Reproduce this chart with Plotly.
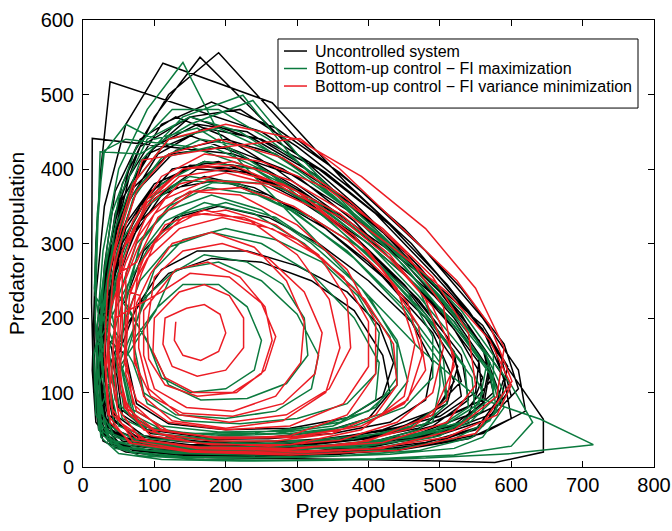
import plotly.graph_objects as go

# Trajectories (prey, predator)
black_points = [
    (25,90),(35,40),(70,22),(140,15),(240,14),(360,17),(470,27),(560,45),(620,75),(610,130),(560,200),(480,290),(390,370),(300,440),(190,556),(120,500),(70,420),(40,310),(28,200),
    (22,120),(28,55),(55,28),(110,18),(200,15),(320,16),(440,22),(540,38),(600,65),(590,120),(540,190),(470,270),(390,345),(300,420),(164,550),(100,470),(55,380),(32,270),(24,170),
    (20,100),(30,45),(60,25),(130,17),(230,15),(350,18),(460,28),(550,50),(585,95),(560,160),(500,235),(420,310),(330,390),(240,440),(150,470),(80,430),(45,340),(28,230),(20,150),
    (18,80),(28,35),(60,20),(130,13),(250,12),(380,10),(500,8),(577,6),(645,20),(645,64),(598,129),(540,210),(460,300),(370,380),(265,489),(112,542),(60,460),(30,350),(18,230),(15,140),
    (15,110),(22,50),(45,28),(100,20),(190,18),(300,20),(410,28),(500,45),(560,75),(570,130),(520,200),(450,275),(370,345),(280,400),(200,430),(120,420),(65,370),(35,280),(20,190),
    (20,80),(35,35),(75,22),(160,17),(270,16),(390,20),(490,32),(560,55),(595,100),(575,165),(510,245),(430,325),(340,395),(250,450),(38,517),(25,400),(18,300),(15,200),
    (13,130),(18,60),(40,30),(90,22),(170,20),(270,22),(380,30),(470,45),(540,70),(560,120),(520,185),(455,255),(380,330),(300,390),(210,420),(13,441),(12,330),(12,220),
    (15,100),(25,45),(55,27),(120,20),(220,19),(330,22),(430,32),(510,50),(560,85),(555,140),(500,210),(420,290),(340,350),(250,400),(170,410),(100,380),(55,320),(30,240),(20,170),
    (18,110),(25,48),(55,30),(120,23),(210,22),(310,25),(410,35),(490,55),(540,90),(530,150),(470,225),(390,300),(310,360),(230,395),(160,400),(100,360),(60,300),(35,230),(22,160),
    (20,90),(32,40),(70,25),(150,19),(260,18),(380,22),(480,33),(560,55),(600,95),(585,150),(530,220),(460,300),(380,370),(300,430),(220,480),(150,470),(90,420),(50,330),(30,230),
    (25,130),(30,60),(55,35),(110,27),(200,25),(300,28),(400,38),(480,58),(530,95),(520,155),(460,230),(380,310),(300,365),(220,400),(150,405),(95,370),(55,300),(35,220),
    (28,100),(40,45),(80,30),(160,24),(270,23),(390,28),(490,40),(570,65),(610,105),(590,165),(530,240),(450,320),(360,395),(270,455),(180,490),(110,460),(65,390),(40,290),(28,190),
    (22,140),(30,65),(60,38),(130,30),(230,29),(330,33),(420,45),(490,70),(520,115),(490,180),(420,255),(340,320),(260,365),(190,385),(130,375),(80,330),(50,260),(32,200),
    (30,120),(45,50),(90,32),(180,26),(290,26),(400,31),(500,45),(575,72),(590,120),(560,185),(490,260),(410,340),(330,400),(250,440),(170,455),(105,420),(60,350),(38,260),(28,180),
    (25,110),(35,50),(70,32),(140,25),(240,23),(350,27),(450,38),(530,60),(575,100),(560,160),(500,235),(420,315),(350,370),(270,420),(200,440),(130,425),(75,370),(42,280),(28,190),
    (32,140),(45,70),(85,42),(170,34),(270,34),(370,40),(450,55),(510,85),(525,135),(480,200),(400,275),(320,335),(240,375),(170,390),(110,365),(70,310),(45,240),
    (22,150),(28,70),(55,40),(120,30),(200,28),(300,31),(400,40),(490,60),(560,90),(570,140),(530,205),(460,280),(380,350),(300,410),(230,450),(160,460),(100,430),(55,360),(35,270),(25,190),
    (40,160),(50,80),(90,50),(170,40),(260,40),(340,48),(400,65),(430,100),(420,150),(380,210),(320,250),(250,275),(180,280),(120,260),(80,220),(55,180),
    (35,130),(45,60),(80,38),(150,30),(240,30),(330,35),(420,50),(490,75),(530,115),(510,175),(450,245),(380,310),(300,360),(230,395),(160,405),(100,380),(60,320),(40,250),(30,170),(25,110),
    (20,170),(24,80),(45,42),(100,30),(180,27),(280,29),(380,36),(470,52),(540,80),(575,120),(555,170),(510,215),(450,265),(380,320),(300,375),(220,420),(150,445),(90,420),(50,350),(30,260),
    (28,150),(36,70),(70,42),(140,34),(230,33),(330,37),(420,48),(500,68),(550,100),(555,145),(520,195),(460,250),(400,300),(330,345),(260,385),(190,410),(125,400),(80,350),(50,280),(35,210),
    (25,120),(33,55),(65,34),(130,27),(225,25),(330,28),(430,37),(520,55),(585,85),(595,135),(560,190),(500,240),(430,290),(350,345),(270,400),(195,445),(130,470),(80,440),(45,370),(30,270),(24,180),
    (60,150),(75,85),(120,58),(200,50),(290,52),(370,66),(420,95),(435,140),(415,190),(370,235),(300,270),(230,290),(160,290),(110,265),(75,215),
    (45,140),(55,70),(95,45),(170,37),(260,38),(350,45),(430,60),(480,90),(490,140),(460,195),(400,250),(330,300),(260,335),(190,350),(130,335),(85,290),(58,220),
]

green_points = [
    (20,100),(25,40),(50,18),(110,10),(220,8),(350,9),(480,12),(600,18),(715,30),(641,64),(553,93),(470,160),(400,230),(330,300),(260,370),(200,430),(140,543),(90,480),(50,400),(28,290),(20,190),
    (18,120),(22,50),(45,25),(100,15),(190,12),(310,13),(430,17),(520,25),(560,40),(590,80),(570,130),(510,200),(440,280),(360,360),(300,420),(238,492),(150,460),(80,420),(24,423),(20,300),(17,200),
    (25,90),(35,35),(70,20),(140,14),(240,13),(360,15),(470,22),(545,40),(580,75),(570,125),(520,190),(450,270),(370,345),(290,420),(224,499),(140,470),(80,410),(45,320),(28,210),
    (20,110),(26,50),(50,28),(110,20),(200,18),(310,20),(420,27),(500,42),(550,70),(545,120),(490,190),(420,265),(340,335),(260,395),(180,430),(110,415),(65,360),(38,280),(24,190),
    (30,100),(40,45),(80,30),(160,24),(270,23),(390,27),(480,40),(540,62),(560,100),(530,160),(470,230),(400,300),(320,360),(240,400),(170,410),(110,380),(70,320),(45,250),(32,170),
    (22,140),(25,65),(45,35),(100,25),(190,22),(300,24),(400,32),(470,50),(510,85),(500,140),(450,210),(380,280),(300,340),(220,380),(150,390),(90,360),(52,300),(33,230),
    (15,150),(18,70),(40,35),(95,22),(180,20),(290,22),(400,30),(490,48),(540,80),(535,135),(480,205),(400,285),(320,350),(240,400),(150,430),(60,440),(30,425),(20,340),(16,240),
    (35,120),(50,55),(95,38),(180,32),(280,32),(380,38),(460,55),(510,90),(505,145),(450,215),(370,290),(290,345),(210,380),(140,385),(90,350),(55,290),(40,210),
    (50,150),(65,80),(110,55),(190,47),(280,48),(360,60),(410,90),(415,140),(380,200),(320,260),(250,300),(180,315),(120,295),(80,250),(60,200),
    (40,130),(55,65),(100,45),(180,38),(270,40),(350,50),(420,72),(455,115),(440,170),(390,240),(320,300),(250,345),(180,365),(120,345),(75,300),(50,230),
    (90,170),(110,120),(150,100),(200,105),(240,130),(250,170),(230,215),(190,245),(140,245),(105,215),
    (70,170),(85,100),(130,70),(200,65),(270,75),(320,105),(330,150),(300,205),(250,250),(190,275),(130,265),(90,230),
    (25,80),(40,30),(80,15),(170,10),(290,9),(410,11),(520,16),(600,28),(630,60),(600,110),(540,185),(460,270),(380,340),(300,400),(220,450),(150,470),(90,440),(50,360),(30,260),(22,170),
    (28,120),(38,55),(75,35),(150,28),(250,27),(360,30),(460,40),(540,58),(580,95),(565,150),(505,220),(430,295),(350,365),(270,420),(190,455),(120,440),(70,380),(42,290),(30,200),
    (60,120),(75,60),(120,40),(210,34),(320,36),(420,45),(490,60),(500,110),(500,175),(470,240),(410,300),(340,350),(260,380),(190,385),(130,360),(85,310),(62,240),(55,170),
    (45,150),(58,75),(100,50),(180,43),(270,45),(350,55),(410,80),(440,120),(430,175),(380,240),(310,300),(240,340),(170,355),(115,330),(75,280),(52,210),
    (20,100),(28,42),(60,25),(130,18),(230,16),(340,18),(440,24),(520,38),(570,62),(590,100),(560,160),(500,230),(420,310),(340,380),(260,440),(190,480),(125,480),(75,430),(40,340),(24,220),
    (35,170),(45,90),(80,55),(150,45),(240,46),(330,55),(400,75),(440,110),(440,165),(400,230),(340,290),(270,335),(200,355),(140,340),(95,300),(60,240),
    (18,160),(22,80),(45,40),(100,26),(190,23),(300,25),(410,33),(500,52),(555,85),(565,135),(520,195),(455,255),(380,315),(300,370),(220,420),(160,455),(100,440),(60,460),(28,420),(20,320),(17,230),
    (70,140),(90,85),(140,62),(220,58),(300,65),(370,85),(410,125),(415,180),(385,230),(335,275),(270,305),(200,320),(140,305),(100,265),(78,205),
    (55,130),(70,70),(115,48),(200,42),(290,45),(380,55),(450,80),(490,120),(490,175),(455,235),(395,290),(320,335),(245,365),(175,375),(120,350),(80,300),(60,220),
    (100,150),(120,110),(165,90),(230,92),(285,112),(315,150),(310,200),(280,245),(230,275),(170,285),(125,260),(102,210),
    (35,110),(45,50),(85,32),(160,26),(250,26),(350,30),(450,40),(530,60),(575,95),(575,150),(530,210),(460,275),(380,340),(300,395),(230,430),(165,440),(110,415),(70,360),(45,280),(35,190),
]

red_points = [
    (130,195),(128,170),(140,150),(165,143),(190,155),(200,180),(192,205),(170,218),(145,213),
    (115,200),(112,165),(125,135),(160,122),(200,130),(225,160),(225,200),(205,230),(170,245),(135,235),
    (100,200),(98,155),(115,120),(155,100),(210,100),(250,125),(265,170),(255,215),(220,255),(175,275),(130,265),(105,235),
    (85,210),(85,150),(100,105),(145,80),(210,75),(270,95),(305,140),(310,195),(285,250),(240,295),(180,315),(125,300),(95,260),
    (75,220),(72,150),(85,95),(125,62),(200,52),(280,62),(340,100),(360,160),(345,225),(300,285),(235,330),(170,345),(115,325),(85,280),
    (65,230),(60,150),(70,85),(110,50),(190,38),(290,42),(370,70),(410,125),(410,195),(370,265),(300,325),(220,365),(150,370),(100,340),(75,290),
    (55,240),(50,150),(58,80),(95,42),(180,30),(290,30),(390,50),(450,95),(465,165),(440,240),(380,310),(300,370),(210,405),(140,400),(90,360),(65,300),
    (48,250),(42,160),(48,80),(80,38),(160,25),(280,22),(400,35),(490,70),(520,135),(505,215),(450,290),(370,360),(280,415),(190,440),(120,420),(75,370),(55,310),
    (42,260),(36,160),(40,80),(70,35),(150,22),(280,18),(420,25),(520,50),(580,95),(590,160),(550,240),(480,320),(390,390),(300,440),(200,460),(120,440),(70,380),(50,320),
    (35,250),(30,150),(35,70),(65,32),(150,20),(290,16),(440,22),(550,45),(601,115),(570,190),(524,250),(470,300),(416,349),(360,400),(304,441),(200,430),(83,412),(60,340),(45,290),
    (40,230),(35,140),(42,70),(75,38),(160,27),(290,25),(420,33),(510,60),(550,110),(540,180),(490,255),(420,320),(340,375),(250,410),(170,420),(110,390),(70,330),(52,280),
    (50,220),(48,140),(60,80),(100,50),(180,40),(290,40),(390,55),(455,90),(475,150),(455,220),(400,290),(330,345),(250,380),(175,385),(115,360),(78,310),(60,260),
    (60,210),(58,140),(75,90),(120,60),(200,50),(290,55),(365,85),(400,135),(400,195),(365,255),(300,305),(225,335),(160,340),(110,315),(78,270),
    (70,200),(72,140),(95,95),(140,72),(210,68),(280,85),(325,125),(335,180),(310,235),(260,280),(195,300),(140,290),(100,255),
    (90,190),(92,145),(115,110),(160,95),(215,100),(255,130),(270,175),(250,220),(205,255),(150,260),(110,235),
    (45,200),(40,120),(52,60),(90,35),(170,26),(280,24),(380,32),(460,52),(510,90),(520,150),(490,215),(430,280),(360,335),(280,375),(200,395),(135,380),(88,335),(60,275),
    (38,210),(32,130),(38,60),(68,32),(140,22),(260,20),(400,24),(510,40),(580,70),(600,110),(570,170),(510,235),(440,290),(370,340),(290,385),(210,410),(140,400),(90,355),(55,290),
    (55,190),(52,120),(65,70),(105,45),(180,35),(270,35),(350,45),(410,70),(440,110),(435,165),(395,225),(335,280),(265,320),(195,335),(135,320),(90,280),(65,235),
    (80,230),(78,160),(92,105),(135,70),(205,60),(285,70),(345,105),(375,160),(370,225),(330,285),(270,325),(200,345),(140,335),(100,300),(82,260),
    (62,200),(60,125),(75,75),(120,48),(200,38),(300,40),(390,55),(450,85),(480,130),(470,190),(430,250),(370,305),(295,350),(220,375),(155,370),(105,335),(75,275),
    (50,260),(45,180),(52,100),(85,50),(160,32),(260,28),(360,36),(440,60),(490,100),(505,160),(480,225),(430,285),(360,340),(280,380),(200,400),(135,390),(90,350),(62,300),
]

series_names = [
    "Uncontrolled system",
    "Bottom-up control \u2212 FI maximization",
    "Bottom-up control \u2212 FI variance minimization",
]
series_colors = ["#000000", "#0b7a3e", "#ec1c24"]
series_data = [black_points, green_points, red_points]

x_ticks = [0, 100, 200, 300, 400, 500, 600, 700, 800]
y_ticks = [0, 100, 200, 300, 400, 500, 600]

fig = go.Figure()
for name, color, pts in zip(series_names, series_colors, series_data):
    fig.add_trace(go.Scatter(
        x=[p[0] for p in pts],
        y=[p[1] for p in pts],
        mode="lines",
        name=name,
        line=dict(color=color, width=1.5),
        showlegend=False,
    ))

font_family = "Liberation Sans, Arial, sans-serif"
axis_common = dict(
    showgrid=False, zeroline=False, showline=True, linecolor="black", linewidth=1,
    mirror="ticks", ticks="inside", ticklen=6, tickcolor="black", tickwidth=1,
    tickfont=dict(family=font_family, size=20, color="black"), automargin=False,
)
fig.update_xaxes(range=[0, 800], tickvals=x_ticks,
                 title=dict(text="Prey population", font=dict(family=font_family, size=21, color="black"), standoff=8),
                 **axis_common)
fig.update_yaxes(range=[0, 600], tickvals=y_ticks, ticklabelstandoff=4,
                 title=dict(text="Predator population", font=dict(family=font_family, size=21, color="black"), standoff=10),
                 **axis_common)

# Legend drawn as a boxed key in the top-right corner (paper coordinates)
leg_x0, leg_x1, leg_y0, leg_y1 = 0.3415, 0.972, 0.803, 0.9575
leg_line_x0, leg_line_x1, leg_text_x = 0.352, 0.3923, 0.4028
leg_rows = [0.9306, 0.8915, 0.8523]

shapes = [dict(type="rect", xref="paper", yref="paper", x0=leg_x0, x1=leg_x1, y0=leg_y0, y1=leg_y1,
               line=dict(color="black", width=1), fillcolor="white", layer="above")]
annotations = []
for name, color, ry in zip(series_names, series_colors, leg_rows):
    shapes.append(dict(type="line", xref="paper", yref="paper", x0=leg_line_x0, x1=leg_line_x1, y0=ry, y1=ry,
                       line=dict(color=color, width=1.5), layer="above"))
    annotations.append(dict(xref="paper", yref="paper", x=leg_text_x, y=ry, text=name, showarrow=False,
                            xanchor="left", yanchor="middle",
                            font=dict(family=font_family, size=16, color="black")))

fig.update_layout(
    width=672, height=531,
    margin=dict(l=83, r=18, t=20, b=64),
    plot_bgcolor="white", paper_bgcolor="white",
    showlegend=False,
    shapes=shapes,
    annotations=annotations,
)

fig.write_html("out.html")
